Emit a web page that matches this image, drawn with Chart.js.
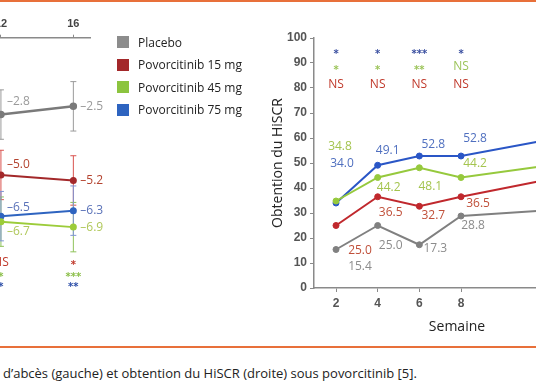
<!DOCTYPE html>
<html lang="fr">
<head>
  <meta charset="UTF-8" />
  <title>Obtention du HiSCR sous povorcitinib</title>
  <script src="https://cdn.jsdelivr.net/npm/chart.js"></script>
  <style>
    body { margin: 0; width: 536px; height: 386px; overflow: hidden; background: #fff; position: relative; font-family: "Open Sans", sans-serif; }
    .rule { position: absolute; left: 0; width: 536px; height: 2px; background: #e8703a; }
    #left { position: absolute; left: -215px; top: 0; }
    #right { position: absolute; left: 260px; top: 0; }
    .legend { position: absolute; left: 117px; top: 31px; font-size: 12px; color: #222; }
    .legend div { height: 22.5px; display: flex; align-items: center; }
    .legend span { width: 12px; height: 12px; margin-right: 9px; display: inline-block; }
    .caption { position: absolute; left: 3px; top: 364px; font-size: 13px; color: #222; white-space: nowrap; }
  </style>
</head>
<body>
  <div class="rule" style="top:0"></div>
  <div class="rule" style="top:346px"></div>

  <canvas id="left" width="335" height="305"></canvas>
  <canvas id="right" width="345" height="347"></canvas>

  <div class="legend">
    <div><span style="background:#8c8c8c"></span>Placebo</div>
    <div><span style="background:#a3282a"></span>Povorcitinib 15 mg</div>
    <div><span style="background:#8cc43f"></span>Povorcitinib 45 mg</div>
    <div><span style="background:#2e64c0"></span>Povorcitinib 75 mg</div>
  </div>

  <div class="caption">d’abcès (gauche) et obtention du HiSCR (droite) sous povorcitinib [5].</div>

  <script>
    // graphique de gauche (coupé) : variation du nombre d'abcès
    const abcWeeks = [12, 16];
    const abcPlacebo = [-2.8, -2.5];
    const abc15 = [-5.0, -5.2];
    const abc45 = [-6.7, -6.9];
    const abc75 = [-6.5, -6.3];
    const abcErr = [0.9, 0.9];
    const abcSig15 = ['NS', '*'];
    const abcSig45 = ['*', '***'];
    const abcSig75 = ['*', '**'];

    // graphique de droite : obtention du HiSCR (%)
    const hiscrWeeks = [2, 4, 6, 8, 12];
    const hiscrPlacebo = [15.4, 25.0, 17.3, 28.8, 31.0];
    const hiscr15 = [25.0, 36.5, 32.7, 36.5, 43.1];
    const hiscr45 = [34.8, 44.2, 48.1, 44.2, 48.8];
    const hiscr75 = [34.0, 49.1, 52.8, 52.8, 59.0];
    const sig15 = ['NS', 'NS', 'NS', 'NS'];
    const sig45 = ['*', '*', '**', 'NS'];
    const sig75 = ['*', '*', '***', '*'];

    const pts = (xs, ys) => ys.map((y, i) => ({ x: xs[i], y }));
    const noPad = s => { s.paddingLeft = 0; s.paddingRight = 0; };

    const errorBars = {
      id: 'errorBars',
      beforeDatasetsDraw(chart) {
        const ctx = chart.ctx, ys = chart.scales.y;
        chart.data.datasets.forEach((ds, i) => {
          if (!ds.err) return;
          const meta = chart.getDatasetMeta(i);
          ctx.save();
          ctx.strokeStyle = ds.errColor || ds.borderColor;
          ctx.lineWidth = 1;
          meta.data.forEach((p, j) => {
            const v = ds.data[j].y;
            const top = ys.getPixelForValue(v + ds.err[j]);
            const bot = ys.getPixelForValue(v - ds.err[j]);
            ctx.beginPath();
            ctx.moveTo(p.x, top); ctx.lineTo(p.x, bot);
            ctx.moveTo(p.x - 3, top); ctx.lineTo(p.x + 3, top);
            ctx.moveTo(p.x - 3, bot); ctx.lineTo(p.x + 3, bot);
            ctx.stroke();
          });
          ctx.restore();
        });
      }
    };

    const valueLabels = {
      id: 'valueLabels',
      afterDatasetsDraw(chart, args, opts) {
        const ctx = chart.ctx;
        chart.data.datasets.forEach((ds, i) => {
          const meta = chart.getDatasetMeta(i);
          ctx.save();
          ctx.font = opts.font;
          ctx.fillStyle = ds.labelColor;
          ctx.textAlign = opts.align;
          ctx.textBaseline = 'middle';
          meta.data.forEach((p, j) => {
            const off = ds.labelOffsets[j];
            if (!off) return;
            ctx.fillText(opts.format(ds.data[j].y), p.x + off[0], p.y + off[1]);
          });
          ctx.restore();
        });
      }
    };

    const sigMarks = {
      id: 'sigMarks',
      afterDatasetsDraw(chart, args, opts) {
        const ctx = chart.ctx, xs = chart.scales.x, ys = chart.scales.y;
        chart.data.datasets.forEach(ds => {
          if (!ds.sig) return;
          ctx.save();
          ctx.fillStyle = ds.sigColor;
          ctx.textAlign = 'center';
          ctx.textBaseline = 'middle';
          ds.sig.forEach((s, j) => {
            const star = s.indexOf('*') >= 0;
            ctx.font = star ? opts.starFont : opts.textFont;
            const y = ys.getPixelForValue(ds.sigLevel) + (star ? 3 : 0);
            ctx.fillText(s, xs.getPixelForValue(ds.data[j].x), y);
          });
          ctx.restore();
        });
      }
    };

    const minus = v => '\u2013' + Math.abs(v).toFixed(1);

    new Chart(document.getElementById('left'), {
      type: 'line',
      data: {
        datasets: [
          { data: pts(abcWeeks, abcPlacebo), borderColor: '#7a7a7a', backgroundColor: '#7a7a7a', borderWidth: 2.5,
            err: abcErr, errColor: '#9a9a9a', labelColor: '#9a9a9a', labelOffsets: [[6, -13], [7, 0]] },
          { data: pts(abcWeeks, abc15), borderColor: '#a3282a', backgroundColor: '#a3282a', borderWidth: 2,
            err: abcErr, errColor: '#d9534f', labelColor: '#b4432f', labelOffsets: [[6, -10], [7, 0]],
            sig: abcSig15, sigLevel: -8.2, sigColor: '#c0392b' },
          { data: pts(abcWeeks, abc45), borderColor: '#9ccc3a', backgroundColor: '#9ccc3a', borderWidth: 2,
            err: abcErr, errColor: '#8fc25a', labelColor: '#b0c85a', labelOffsets: [[6, 10], [7, 0]],
            sig: abcSig45, sigLevel: -8.62, sigColor: '#8cbf4a' },
          { data: pts(abcWeeks, abc75), borderColor: '#2e64c0', backgroundColor: '#2e64c0', borderWidth: 2,
            err: abcErr, errColor: '#7f95d4', labelColor: '#5a72b8', labelOffsets: [[6, -9], [7, 0]],
            sig: abcSig75, sigLevel: -8.98, sigColor: '#2e4fa8' }
        ]
      },
      options: {
        responsive: false,
        animation: false,
        layout: { padding: { left: 0, top: 0, bottom: 0, right: 30 } },
        elements: { point: { radius: 2.5 }, line: { tension: 0 } },
        plugins: {
          legend: { display: false },
          tooltip: { enabled: false },
          valueLabels: { font: '12px "Open Sans"', align: 'left', format: minus },
          sigMarks: { starFont: 'bold 10px "DejaVu Sans"', textFont: '12px "Open Sans"' }
        },
        scales: {
          x: {
            type: 'linear', position: 'top', min: 0.432, max: 16.92,
            afterFit: s => { s.height = 37.7; noPad(s); },
            afterBuildTicks: s => { s.ticks = abcWeeks.map(v => ({ value: v })); },
            border: { color: '#8a8a8a', width: 1.5 },
            grid: { drawOnChartArea: false, tickLength: 3, color: '#8a8a8a' },
            ticks: { autoSkip: false, maxRotation: 0, padding: 4, color: '#444', font: { family: 'Liberation Sans', size: 11, weight: 'bold' } }
          },
          y: { display: false, min: -9.5, max: 0 }
        }
      },
      plugins: [errorBars, valueLabels, sigMarks]
    });

    new Chart(document.getElementById('right'), {
      type: 'line',
      data: {
        datasets: [
          { data: pts(hiscrWeeks, hiscrPlacebo), borderColor: '#808080', backgroundColor: '#808080',
            labelColor: '#8c8c8c', labelOffsets: [[24, 17], [13, 20], [16, 4], [12, 10]] },
          { data: pts(hiscrWeeks, hiscr15), borderColor: '#c0282d', backgroundColor: '#c0282d',
            labelColor: '#c0503a', labelOffsets: [[24, 25], [13, 16], [14, 9], [17, 7]],
            sig: sig15, sigLevel: 81.2, sigColor: '#c0392b' },
          { data: pts(hiscrWeeks, hiscr45), borderColor: '#96c93d', backgroundColor: '#96c93d',
            labelColor: '#a4c44e', labelOffsets: [[4, -54], [11, 10], [11, 19], [14, -14]],
            sig: sig45, sigLevel: 88.4, sigColor: '#9cc45a' },
          { data: pts(hiscrWeeks, hiscr75), borderColor: '#2a56c6', backgroundColor: '#2a56c6',
            labelColor: '#4f6fbf', labelOffsets: [[6, -39], [10, -15], [14, -11], [14, -17]],
            sig: sig75, sigLevel: 94.8, sigColor: '#3a4fa0' }
        ]
      },
      options: {
        responsive: false,
        animation: false,
        layout: { padding: { top: 38, right: 0, left: 0, bottom: 0 } },
        elements: { point: { radius: 3 }, line: { tension: 0, borderWidth: 2 } },
        plugins: {
          legend: { display: false },
          tooltip: { enabled: false },
          valueLabels: { font: '12px "Open Sans"', align: 'center', format: v => v.toFixed(1) },
          sigMarks: { starFont: 'bold 10px "DejaVu Sans"', textFont: '12px "Open Sans"' }
        },
        scales: {
          x: {
            type: 'linear', min: 0.944, max: 14.67,
            afterFit: s => { s.height = 59; noPad(s); },
            afterBuildTicks: s => { s.ticks = hiscrWeeks.map(v => ({ value: v })); },
            border: { color: '#8a8a8a', width: 1.5 },
            grid: { drawOnChartArea: false, tickLength: 4, color: '#8a8a8a' },
            ticks: { autoSkip: false, maxRotation: 0, padding: 4, color: '#555', font: { family: 'Liberation Sans', size: 12, weight: 'bold' } },
            title: { display: true, text: 'Semaine', color: '#222', padding: { top: 0, bottom: 12 }, font: { family: 'Open Sans', size: 14 } }
          },
          y: {
            min: 0, max: 100,
            afterFit: s => { s.width = 54; },
            border: { color: '#8a8a8a', width: 1.5 },
            grid: { drawOnChartArea: false, tickLength: 4, color: '#8a8a8a' },
            ticks: { stepSize: 10, padding: 3, color: '#555', font: { family: 'Liberation Sans', size: 12, weight: 'bold' } },
            title: { display: true, text: 'Obtention du HiSCR', color: '#222', padding: { top: 10, bottom: 0 }, font: { family: 'Open Sans', size: 14 } }
          }
        }
      },
      plugins: [valueLabels, sigMarks]
    });
  </script>
</body>
</html>
